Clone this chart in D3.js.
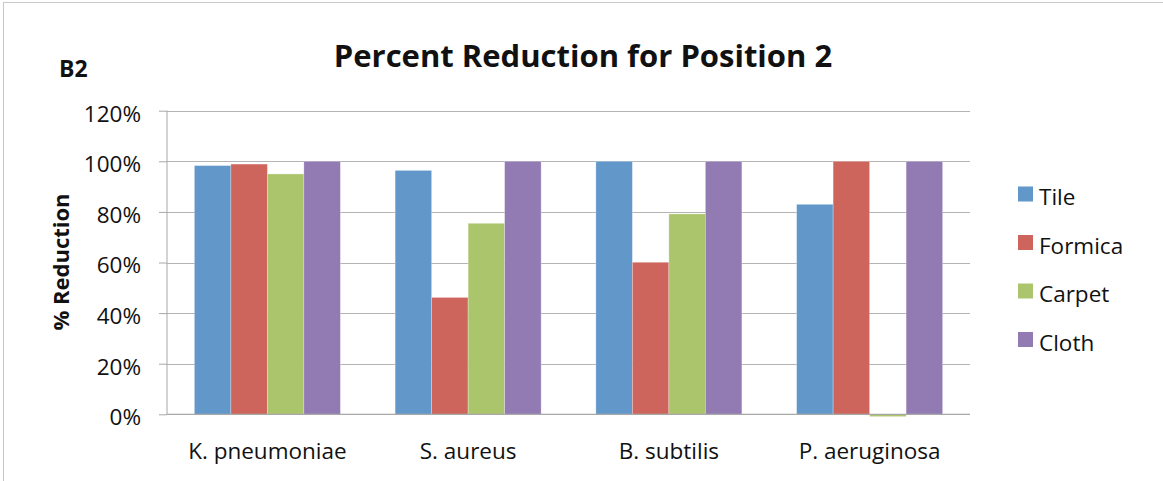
<!DOCTYPE html>
<html><head><meta charset="utf-8">
<script src="https://cdn.jsdelivr.net/npm/d3@7"></script>
<style>
html,body{margin:0;padding:0;background:#fff;}
svg{display:block;font-family:"Open Sans","Liberation Sans",sans-serif;}
</style></head>
<body>
<svg id="chart" width="1163" height="481"></svg>
<script>
const categories = ["K. pneumoniae", "S. aureus", "B. subtilis", "P. aeruginosa"];
const seriesNames = ["Tile", "Formica", "Carpet", "Cloth"];
const tileValues    = [0.983, 0.964, 1.00, 0.830];
const formicaValues = [0.989, 0.462, 0.601, 1.00];
const carpetValues  = [0.950, 0.755, 0.792, -0.009];
const clothValues   = [1.00, 1.00, 1.00, 1.00];
const yTicks = [0, 0.2, 0.4, 0.6, 0.8, 1.0, 1.2];
const colors = ["#6197C9", "#CD655D", "#ABC56D", "#927AB2"];
const titleText = "Percent Reduction for Position 2";
const panelLabel = "B2";
const yAxisTitle = "% Reduction";

const seriesValues = [tileValues, formicaValues, carpetValues, clothValues];
const svg = d3.select("#chart");
const FONT = "'Open Sans', 'Liberation Sans', sans-serif";

// border
svg.append("rect").attr("x", 3.5).attr("y", 2.5).attr("width", 1200).attr("height", 520)
  .attr("fill", "none").attr("stroke", "#c8c8c8").attr("stroke-width", 1);

const pLeft = 167, pRight = 970, pTop = 110.7, pBottom = 414.3;
const x0 = d3.scaleBand().domain(categories).range([pLeft, pRight]);
const x1 = d3.scaleBand().domain(seriesNames).range([0, x0.bandwidth()]).paddingInner(0).paddingOuter(0.75);
const y = d3.scaleLinear().domain([0, 1.2]).range([pBottom, pTop]);
const color = d3.scaleOrdinal().domain(seriesNames).range(colors);

// gridlines
svg.append("g").selectAll("line").data(yTicks.filter(d => d > 0)).join("line")
  .attr("x1", pLeft).attr("x2", pRight)
  .attr("y1", d => Math.round(y(d)) + 0.5).attr("y2", d => Math.round(y(d)) + 0.5)
  .attr("stroke", "#b4b4b4").attr("stroke-width", 1.2);

// y axis
const yAxis = d3.axisLeft(y).tickValues(yTicks).tickFormat(d3.format(".0%")).tickSize(8).tickPadding(18);
const gy = svg.append("g").attr("transform", `translate(${pLeft},0)`).call(yAxis);
gy.select(".domain").attr("stroke", "#a8a8a8").attr("d", `M0,${pTop}V${pBottom}`);
gy.selectAll(".tick line").attr("stroke", "#a8a8a8");
gy.selectAll(".tick text").attr("fill", "#111").attr("dy", "0.46em")
  .style("font-size", "22.5px").style("font-family", FONT);

// bars
const groups = svg.append("g").selectAll("g").data(categories).join("g")
  .attr("transform", d => `translate(${x0(d)},0)`);
groups.selectAll("rect").data((c, ci) => seriesNames.map((s, si) => ({s, v: seriesValues[si][ci]})))
  .join("rect")
  .attr("x", d => x1(d.s))
  .attr("width", x1.bandwidth())
  .attr("y", d => Math.min(y(d.v), y(0)))
  .attr("height", d => Math.abs(y(d.v) - y(0)))
  .attr("fill", d => color(d.s))
  .attr("stroke", "rgba(255,255,255,0.35)").attr("stroke-width", 0.8);

// x axis baseline
svg.append("line").attr("x1", pLeft).attr("x2", pRight).attr("y1", pBottom).attr("y2", pBottom)
  .attr("stroke", "#a8a8a8").attr("stroke-width", 1.2);
const xAxis = d3.axisBottom(x0).tickSize(0);
const gx = svg.append("g").attr("transform", `translate(0,${pBottom})`).call(xAxis);
gx.select(".domain").remove();
gx.selectAll(".tick text").attr("fill", "#111").attr("y", 45).attr("dy", null)
  .style("font-size", "22.5px").style("font-family", FONT);

// title
svg.append("text").attr("x", 583).attr("y", 67).attr("text-anchor", "middle")
  .style("font-family", FONT).style("font-weight", "bold").style("font-size", "31px")
  .attr("fill", "#111").text(titleText);
svg.append("text").attr("x", 59).attr("y", 77)
  .style("font-family", FONT).style("font-weight", "bold").style("font-size", "23px")
  .attr("fill", "#111").text(panelLabel);

// y axis title
svg.append("text").attr("transform", `translate(69,262) rotate(-90)`).attr("text-anchor", "middle")
  .style("font-family", FONT).style("font-weight", "bold").style("font-size", "22px")
  .attr("fill", "#111").text(yAxisTitle);

// legend
const legend = svg.append("g").selectAll("g").data(seriesNames).join("g")
  .attr("transform", (d, i) => `translate(1018,${194.5 + i * 48.5})`);
legend.append("rect").attr("x", 0).attr("y", -8).attr("width", 15).attr("height", 15).attr("fill", d => color(d));
legend.append("text").attr("x", 21).attr("y", 10.5)
  .style("font-family", FONT).style("font-size", "22.5px")
  .attr("fill", "#111").text(d => d);
</script>
</body></html>
